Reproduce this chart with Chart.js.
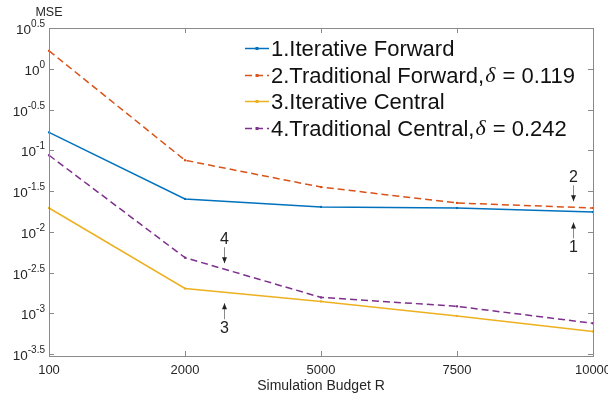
<!DOCTYPE html>
<html>
<head>
<meta charset="utf-8">
<script src="https://cdn.jsdelivr.net/npm/chart.js@4.4.1/dist/chart.umd.min.js"></script>
<style>
  html, body { margin: 0; padding: 0; background: #fff; }
  #wrap { width: 608px; height: 395px; }
</style>
</head>
<body>
<div id="wrap"><canvas id="grafico"></canvas></div>
<script>
// dados
const categorias = ["100", "2000", "5000", "7500", "10000"];
const iterativeForward = [0.166, 0.0253, 0.0202, 0.0196, 0.0175];
const traditionalForward = [1.66, 0.0755, 0.0354, 0.0226, 0.0196];
const iterativeCentral = [0.0196, 0.00202, 0.0014, 0.00093, 0.0006];
const traditionalCentral = [0.0869, 0.00482, 0.00157, 0.00122, 0.000755];
const expoentesY = ["-3.5", "-3", "-2.5", "-2", "-1.5", "-1", "-0.5", "0", "0.5"];

// setas numeradas: serie, posicao no eixo x (indice), direcao
const anotacoes = [
  { texto: "2", serie: 1, pos: 3.85, dir: "down" },
  { texto: "1", serie: 0, pos: 3.85, dir: "up" },
  { texto: "4", serie: 3, pos: 1.29, dir: "down" },
  { texto: "3", serie: 2, pos: 1.29, dir: "up" }
];

const FONTE = "'Liberation Sans', Arial, Helvetica, sans-serif";
const CINZA = "#8a8a8a";

function valorEm(dados, pos) {
  const i = Math.min(Math.floor(pos), dados.length - 2);
  const t = pos - i;
  const a = Math.log10(dados[i]), b = Math.log10(dados[i + 1]);
  return Math.pow(10, a + (b - a) * t);
}

const desenhos = {
  id: "desenhos",
  afterDatasetsDraw(chart) {
    const ctx = chart.ctx;
    const x = chart.scales.x, y = chart.scales.y;
    const area = chart.chartArea;
    ctx.save();

    // caixa
    ctx.strokeStyle = CINZA;
    ctx.lineWidth = 1;
    ctx.strokeRect(Math.round(area.left) + 0.5, Math.round(area.top) + 0.5,
      Math.round(area.right - area.left), Math.round(area.bottom - area.top));

    // ticks para dentro
    ctx.beginPath();
    categorias.forEach((c, i) => {
      const px = Math.round(x.getPixelForValue(i)) + 0.5;
      ctx.moveTo(px, area.bottom); ctx.lineTo(px, area.bottom - 5);
      ctx.moveTo(px, area.top); ctx.lineTo(px, area.top + 5);
    });
    expoentesY.forEach(e => {
      const py = Math.round(y.getPixelForValue(Math.pow(10, parseFloat(e)))) + 0.5;
      ctx.moveTo(area.left, py); ctx.lineTo(area.left + 5, py);
      ctx.moveTo(area.right, py); ctx.lineTo(area.right - 5, py);
    });
    ctx.stroke();

    // rotulos do eixo y com expoente
    ctx.fillStyle = "#262626";
    ctx.textAlign = "left";
    ctx.textBaseline = "alphabetic";
    expoentesY.forEach(e => {
      const py = y.getPixelForValue(Math.pow(10, parseFloat(e)));
      ctx.font = "13.5px " + FONTE;
      const wb = ctx.measureText("10").width;
      ctx.font = "10px " + FONTE;
      const we = ctx.measureText(e).width;
      const x0 = area.left - 4 - wb - we;
      ctx.font = "13.5px " + FONTE;
      ctx.fillText("10", x0, py + 6);
      ctx.font = "10px " + FONTE;
      ctx.fillText(e, x0 + wb, py - 1);
    });

    // MSE
    ctx.font = "12.5px " + FONTE;
    ctx.textAlign = "center";
    ctx.textBaseline = "middle";
    ctx.fillText("MSE", area.left, 13);

    // setas
    anotacoes.forEach(a => {
      const dados = chart.data.datasets[a.serie].data;
      const px = Math.round(x.getPixelForValue(a.pos)) + 0.5;
      const ly = y.getPixelForValue(valorEm(dados, a.pos));
      let ponta, cauda, ty, s;
      if (a.dir === "down") { ponta = ly - 6; cauda = ponta - 16; ty = cauda - 8; s = -1; }
      else { ponta = ly + 11; cauda = ponta + 16; ty = cauda + 9; s = 1; }
      ctx.strokeStyle = CINZA;
      ctx.lineWidth = 1;
      ctx.beginPath();
      ctx.moveTo(px, cauda); ctx.lineTo(px, ponta);
      ctx.stroke();
      ctx.fillStyle = "#222";
      ctx.beginPath();
      ctx.moveTo(px, ponta);
      ctx.lineTo(px - 2.5, ponta + s * 6);
      ctx.lineTo(px + 2.5, ponta + s * 6);
      ctx.closePath();
      ctx.fill();
      ctx.font = "16px " + FONTE;
      ctx.textAlign = "center";
      ctx.textBaseline = "middle";
      ctx.fillText(a.texto, px, ty);
    });

    // legenda
    const lx = 245, ly0 = 48, passo = 26.5;
    chart.data.datasets.forEach((ds, i) => {
      const cy = Math.round(ly0 + i * passo) + 0.5;
      ctx.strokeStyle = ds.borderColor;
      ctx.lineWidth = 1.5;
      ctx.setLineDash(ds.borderDash || []);
      ctx.beginPath();
      ctx.moveTo(lx, cy); ctx.lineTo(lx + 24, cy);
      ctx.stroke();
      ctx.setLineDash([]);
      ctx.fillStyle = ds.borderColor;
      ctx.fillRect(lx + 10.5, cy - 1.5, 3, 3);

      ctx.fillStyle = "#111";
      ctx.textAlign = "left";
      ctx.textBaseline = "middle";
      let tx = lx + 26;
      const partes = ds.label.split("δ");
      ctx.font = "22px " + FONTE;
      ctx.fillText(partes[0], tx, cy + 1);
      if (partes.length > 1) {
        tx += ctx.measureText(partes[0]).width + 1;
        ctx.font = "italic 22px 'Liberation Serif', 'Times New Roman', serif";
        ctx.fillText("δ", tx, cy + 1);
        tx += ctx.measureText("δ").width + 1;
        ctx.font = "22px " + FONTE;
        ctx.fillText(partes[1], tx, cy + 1);
      }
    });
    ctx.restore();
  }
};

const dashed = [7, 4];
new Chart(document.getElementById("grafico"), {
  type: "line",
  data: {
    labels: categorias,
    datasets: [
      { label: "1.Iterative Forward", data: iterativeForward, borderColor: "#0072BD" },
      { label: "2.Traditional Forward,δ = 0.119", data: traditionalForward, borderColor: "#D95319", borderDash: dashed },
      { label: "3.Iterative Central", data: iterativeCentral, borderColor: "#EDB120" },
      { label: "4.Traditional Central,δ = 0.242", data: traditionalCentral, borderColor: "#7E2F8E", borderDash: dashed }
    ].map(d => Object.assign({
      borderWidth: 1.5,
      backgroundColor: d.borderColor,
      pointStyle: "rect",
      pointRadius: 1.5,
      pointBorderWidth: 0,
      pointBackgroundColor: d.borderColor,
      tension: 0,
      fill: false
    }, d))
  },
  options: {
    responsive: true,
    maintainAspectRatio: false,
    animation: false,
    devicePixelRatio: 1,
    layout: { padding: { left: 0, right: 15, top: 28, bottom: 0 } },
    plugins: { legend: { display: false }, tooltip: { enabled: false } },
    scales: {
      x: {
        type: "category",
        offset: false,
        grid: { display: false, drawTicks: false },
        border: { display: false },
        ticks: { color: "#262626", font: { size: 13, family: FONTE }, padding: 7, maxRotation: 0, autoSkip: false },
        title: { display: true, text: "Simulation Budget R", color: "#262626", font: { size: 14, family: FONTE }, padding: { top: 2, bottom: 0 } },
        afterFit(s) { s.height = 39; s.paddingLeft = 0; s.paddingRight = 0; }
      },
      y: {
        type: "logarithmic",
        min: Math.pow(10, -3.5),
        max: Math.pow(10, 0.5),
        grid: { display: false, drawTicks: false },
        border: { display: false },
        ticks: { display: false },
        afterBuildTicks(s) { s.ticks = expoentesY.map(e => ({ value: Math.pow(10, parseFloat(e)) })); },
        afterFit(s) { s.width = 49; s.paddingTop = 0; s.paddingBottom = 0; }
      }
    }
  },
  plugins: [desenhos]
});
</script>
</body>
</html>
